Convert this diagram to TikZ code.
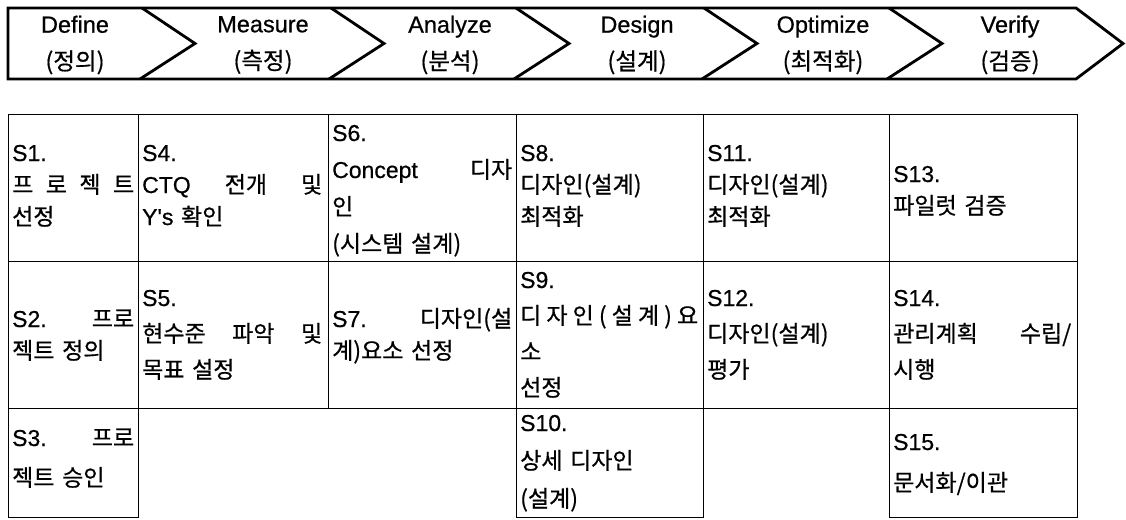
\documentclass[tikz,border=0pt]{standalone}
\usepackage{fontspec}
\setmainfont[FakeBold=0.6]{Noto Sans CJK KR}
\newfontfamily\lat[FakeBold=0.6]{Liberation Sans}
\newcommand\La[1]{{\lat #1}}
\newcommand\barfont{\fontsize{23.5}{37}\selectfont}
\begin{document}
\begin{tikzpicture}[x=1pt,y=-1pt,
  cellbox/.style={draw, line width=1.3pt, rectangle, anchor=north west,
    inner sep=0pt, minimum height=#1},
  celltext/.style={anchor=base west, inner sep=0pt, align=left,
    font=\fontsize{23}{#1}\selectfont},
  phase/.style={align=center, font=\barfont, inner sep=0pt},
  barline/.style={line width=2.8pt, line join=miter}]
\useasboundingbox (0,0) rectangle (1126,519);
\fill[white] (0,0) rectangle (1126,519);
% phase bar
\draw[barline] (8,8) -- (1076,8) -- (1123,43.5) -- (1076,79) -- (8,79) -- cycle;
\foreach \t in {142,331,516,704,889}
  \draw[barline] (\t,8) -- (\t+53,43.5) -- (\t-2,79);
\node[phase] (ph1) at (75,45)   {\La{Define}\\(정의)};
\node[phase] (ph2) at (263,45)  {\La{Measure}\\(측정)};
\node[phase] (ph3) at (450,45)  {\La{Analyze}\\(분석)};
\node[phase] (ph4) at (637,45)  {\La{Design}\\(설계)};
\node[phase] (ph5) at (823,45)  {\La{Optimize}\\(최적화)};
\node[phase] (ph6) at (1010,45) {\La{Verify}\\(검증)};
% cell frames
\node[cellbox=147pt, minimum width=130pt] (s1)  at (8,114)   {};
\node[cellbox=147pt, minimum width=190pt] (s4)  at (138,114) {};
\node[cellbox=147pt, minimum width=188pt] (s6)  at (328,114) {};
\node[cellbox=147pt, minimum width=187pt] (s8)  at (516,114) {};
\node[cellbox=147pt, minimum width=186pt] (s11) at (703,114) {};
\node[cellbox=147pt, minimum width=188pt] (s13) at (889,114) {};
\node[cellbox=147pt, minimum width=130pt] (s2)  at (8,261)   {};
\node[cellbox=147pt, minimum width=190pt] (s5)  at (138,261) {};
\node[cellbox=147pt, minimum width=188pt] (s7)  at (328,261) {};
\node[cellbox=147pt, minimum width=187pt] (s9)  at (516,261) {};
\node[cellbox=147pt, minimum width=186pt] (s12) at (703,261) {};
\node[cellbox=147pt, minimum width=188pt] (s14) at (889,261) {};
\node[cellbox=109pt, minimum width=130pt] (s3)  at (8,408)   {};
\node[cellbox=109pt, minimum width=187pt] (s10) at (516,408) {};
\node[cellbox=109pt, minimum width=188pt] (s15) at (889,408) {};
% cell texts, row 1
\node[celltext=32pt, text width=122pt] (t1) at (12,161)
  {\La{S1.}\\\makebox[122pt]{프\hfill 로\hfill 젝\hfill 트}\\선정};
\node[celltext=32pt, text width=182pt] (t4) at (142,161)
  {\La{S4.}\\\makebox[180pt]{\La{CTQ}\hfill 전개\hfill 및}\\\La{Y's} 확인};
\node[celltext=37pt, text width=180pt] (t6) at (332,141)
  {\La{S6.}\\\makebox[180pt]{\La{Concept}\hfill 디자}\\인\\(시스템 설계)};
\node[celltext=32pt, text width=179pt] (t8) at (520,161)
  {\La{S8.}\\디자인(설계)\\최적화};
\node[celltext=32pt, text width=178pt] (t11) at (707,161)
  {\La{S11.}\\디자인(설계)\\최적화};
\node[celltext=32pt, text width=180pt] (t13) at (893,182)
  {\La{S13.}\\파일럿 검증};
% row 2
\node[celltext=32pt, text width=122pt] (t2) at (12,327)
  {\makebox[122pt]{\La{S2.}\hfill 프로}\\젝트 정의};
\node[celltext=36pt, text width=182pt] (t5) at (142,306)
  {\La{S5.}\\\makebox[180pt]{현수준\hfill 파악\hfill 및}\\목표 설정};
\node[celltext=32pt, text width=180pt] (t7) at (332,327)
  {\makebox[180pt]{\La{S7.}\hfill 디자인(설}\\계)요소 선정};
\node[celltext=36pt, text width=179pt] (t9) at (520,288)
  {\La{S9.}\\\makebox[178pt]{디\hfill 자\hfill 인\hfill (\hfill 설\hfill 계\hfill )\hfill 요}\\소\\선정};
\node[celltext=36pt, text width=178pt] (t12) at (707,306)
  {\La{S12.}\\디자인(설계)\\평가};
\node[celltext=36pt, text width=180pt] (t14) at (893,306)
  {\La{S14.}\\\makebox[178pt]{관리계획\hfill 수립/}\\시행};
% row 3
\node[celltext=40pt, text width=122pt] (t3) at (12,446)
  {\makebox[122pt]{\La{S3.}\hfill 프로}\\젝트 승인};
\node[celltext=38pt, text width=179pt] (t10) at (520,431)
  {\La{S10.}\\상세 디자인\\(설계)};
\node[celltext=41pt, text width=180pt] (t15) at (893,450)
  {\La{S15.}\\문서화/이관};
\end{tikzpicture}
\end{document}
